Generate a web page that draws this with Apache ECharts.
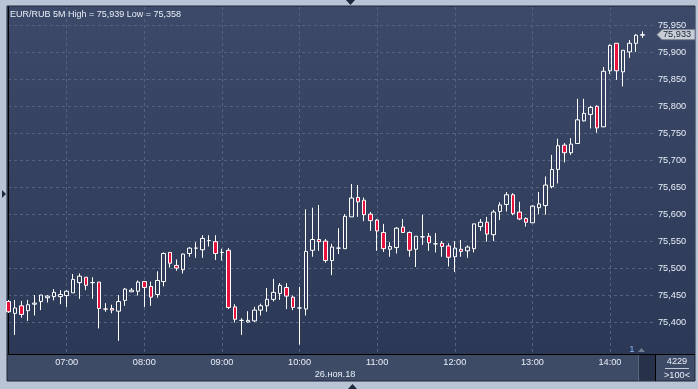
<!DOCTYPE html>
<html>
<head>
<meta charset="utf-8">
<script src="https://cdn.jsdelivr.net/npm/echarts@6/dist/echarts.min.js"></script>
<style>
html,body{margin:0;padding:0;background:#b9c5d6;}
#c{width:698px;height:389px;}
</style>
</head>
<body>
<div id="c"></div>
<script>
// 5-minute candles, index 0 = 06:15, index 98 = 14:25
var startMinutes = 6 * 60 + 15;
var stepMinutes = 5;
var openV = [75.438,75.416,75.430,75.421,75.433,75.438,75.445,75.447,75.447,75.449,
75.454,75.473,75.483,75.473,75.474,75.424,75.425,75.420,75.440,75.456,
75.457,75.475,75.466,75.451,75.475,75.529,75.505,75.497,75.527,75.537,
75.534,75.551,75.549,75.529,75.533,75.428,75.403,75.400,75.402,75.422,
75.430,75.442,75.453,75.464,75.446,75.426,75.424,75.533,75.553,75.550,
75.514,75.537,75.536,75.595,75.631,75.626,75.600,75.589,75.566,75.535,
75.538,75.576,75.566,75.535,75.558,75.559,75.545,75.546,75.541,75.521,
75.535,75.532,75.536,75.577,75.585,75.562,75.605,75.618,75.636,75.604,
75.592,75.584,75.612,75.616,75.651,75.683,75.728,75.714,75.731,75.773,
75.785,75.800,75.762,75.866,75.917,75.864,75.901,75.917,75.932];
var closeV = [75.419,75.426,75.414,75.432,75.435,75.450,75.448,75.455,75.451,75.457,
75.479,75.485,75.468,75.473,75.425,75.424,75.422,75.438,75.461,75.459,
75.474,75.464,75.446,75.477,75.527,75.509,75.500,75.526,75.537,75.537,
75.555,75.551,75.527,75.529,75.427,75.405,75.403,75.403,75.422,75.430,
75.442,75.455,75.468,75.448,75.427,75.426,75.531,75.553,75.549,75.514,
75.539,75.537,75.596,75.630,75.623,75.599,75.588,75.569,75.536,75.540,
75.574,75.566,75.533,75.559,75.558,75.547,75.545,75.540,75.520,75.537,
75.531,75.539,75.582,75.585,75.563,75.604,75.617,75.636,75.601,75.591,
75.585,75.615,75.619,75.654,75.683,75.727,75.714,75.730,75.775,75.787,
75.798,75.760,75.865,75.913,75.866,75.904,75.917,75.932,75.933];
var lowV = [75.417,75.376,75.408,75.402,75.412,75.422,75.436,75.440,75.433,75.428,
75.454,75.443,75.459,75.443,75.388,75.419,75.416,75.365,75.430,75.456,
75.449,75.428,75.430,75.445,75.466,75.501,75.495,75.490,75.521,75.519,
75.519,75.540,75.515,75.514,75.424,75.399,75.376,75.399,75.400,75.412,
75.419,75.438,75.441,75.424,75.422,75.358,75.412,75.521,75.532,75.510,
75.487,75.526,75.536,75.595,75.595,75.587,75.569,75.532,75.530,75.521,
75.527,75.566,75.521,75.502,75.543,75.532,75.529,75.521,75.503,75.493,
75.521,75.519,75.529,75.569,75.549,75.550,75.589,75.605,75.598,75.589,
75.577,75.584,75.600,75.599,75.648,75.657,75.696,75.710,75.731,75.772,
75.759,75.751,75.762,75.860,75.849,75.837,75.890,75.901,75.927];
var highV = [75.441,75.441,75.439,75.441,75.450,75.450,75.450,75.461,75.459,75.459,
75.489,75.490,75.483,75.483,75.474,75.435,75.432,75.450,75.463,75.463,
75.477,75.475,75.475,75.494,75.529,75.529,75.516,75.527,75.539,75.548,
75.561,75.561,75.561,75.536,75.537,75.433,75.407,75.420,75.428,75.434,
75.463,75.480,75.472,75.472,75.449,75.465,75.609,75.612,75.617,75.554,
75.545,75.574,75.600,75.656,75.654,75.631,75.604,75.591,75.582,75.548,
75.576,75.591,75.568,75.559,75.599,75.565,75.565,75.550,75.546,75.550,
75.552,75.542,75.582,75.591,75.595,75.608,75.622,75.641,75.639,75.623,
75.594,75.617,75.641,75.670,75.710,75.740,75.732,75.741,75.814,75.814,
75.801,75.802,75.873,75.915,75.917,75.904,75.923,75.934,75.939];
var xTickIdx = [9, 21, 33, 45, 57, 69, 81, 93];
var yTicks = [75.400, 75.450, 75.500, 75.550, 75.600, 75.650, 75.700, 75.750, 75.800, 75.850, 75.900, 75.950];
var titleText = 'EUR/RUB 5M High = 75,939 Low = 75,358';
var dateText = '26.ноя.18';
var lastPrice = 75.933;
var barCount = '4229';
var zoomText = '>100<';

function idxToTime(i) {
  var m = startMinutes + stepMinutes * Math.round(i);
  var h = Math.floor(m / 60), mm = m % 60;
  return (h < 10 ? '0' : '') + h + ':' + (mm < 10 ? '0' : '') + mm;
}
function fmtPrice(v) { return v.toFixed(3).replace('.', ','); }

var candleData = openV.map(function (o, i) { return [i, o, closeV[i], lowV[i], highV[i]]; });

var FONT = '"Liberation Sans", Arial, sans-serif';
var TXT = '#e9eff8';

function txt(s, x, y, align, size, color) {
  return { type: 'text', z: 60, silent: true, style: {
    text: s, x: x, y: y, fill: color || TXT, font: (size || 9.2) + 'px ' + FONT,
    align: align, textAlign: align, verticalAlign: 'middle', textVerticalAlign: 'middle' } };
}

var chart = echarts.init(document.getElementById('c'), null, { renderer: 'canvas' });
chart.setOption({
  animation: false,
  backgroundColor: '#b9c5d6',
  grid: { left: 8, top: 7, right: 43, bottom: 35, show: false },
  xAxis: {
    type: 'value',
    min: -0.08,
    max: 99.96,
    axisLine: { show: true, lineStyle: { color: '#000', width: 1 } },
    axisTick: { show: false, customValues: xTickIdx },
    axisLabel: {
      customValues: xTickIdx,
      formatter: function (v) { return idxToTime(v); },
      color: TXT, fontFamily: FONT, fontSize: 9.2, margin: 4
    },
    splitLine: { show: true, lineStyle: { color: '#53627e', type: [3, 3], width: 1 } }
  },
  yAxis: {
    type: 'value',
    position: 'right',
    min: 75.3406,
    max: 75.9843,
    scale: true,
    axisLine: { show: true, lineStyle: { color: '#000', width: 1 } },
    axisTick: { show: false, customValues: yTicks },
    axisLabel: {
      customValues: yTicks,
      formatter: function (v) { return fmtPrice(v); },
      color: TXT, fontFamily: FONT, fontSize: 9.2, margin: 3
    },
    splitLine: { show: true, lineStyle: { color: '#53627e', type: [3, 3], width: 1 } }
  },
  series: [{
    type: 'candlestick',
    data: candleData,
    encode: { x: 0, y: [1, 2, 3, 4] },
    barWidth: 4,
    clip: true,
    itemStyle: {
      color: 'rgba(0,0,0,0)',
      color0: '#e8123c',
      borderColor: '#ffffff',
      borderColor0: '#ffffff',
      borderColorDoji: '#ffffff',
      borderWidth: 1
    },
    z: 5
  }]
});

var yLast = chart.convertToPixel({ yAxisIndex: 0 }, lastPrice);

chart.setOption({
  graphic: [
    // panel frame + bottom time band
    { type: 'rect', z: -20, silent: true, shape: { x: 7, y: 6, width: 688, height: 375 },
      style: { fill: '#3e4b67', stroke: '#1f2638', lineWidth: 1 } },
    // plot + price band background gradient
    { type: 'rect', z: -10, silent: true, shape: { x: 8, y: 7, width: 687, height: 347 },
      style: { fill: new echarts.graphic.LinearGradient(0, 0, 0, 1, [
        { offset: 0, color: '#3c4968' }, { offset: 1, color: '#2b3856' }]) } },
    { type: 'line', z: 50, silent: true, shape: { x1: 655.5, y1: 354, x2: 655.5, y2: 381 }, style: { stroke: '#000', lineWidth: 1 } },
    { type: 'line', z: 50, silent: true, shape: { x1: 655, y1: 354.5, x2: 695, y2: 354.5 }, style: { stroke: '#000', lineWidth: 1 } },
    // scroll box
    { type: 'rect', z: 40, silent: true, shape: { x: 638, y: 355, width: 17, height: 26 }, style: { fill: '#27324a' } },
    { type: 'line', z: 41, silent: true, shape: { x1: 638.5, y1: 355, x2: 638.5, y2: 381 }, style: { stroke: '#5a667e', lineWidth: 1 } },
    { type: 'polygon', z: 41, silent: true, shape: { points: [[638, 352], [641.5, 348], [645, 352]] }, style: { fill: '#6f7b90' } },
    txt('1', 632, 349.5, 'center', 9.5, '#86b6ee'),
    txt(titleText, 10, 15, 'left', 9),
    txt(dateText, 335, 374, 'center'),
    txt(barCount, 677, 361.5, 'center'),
    { type: 'line', z: 60, silent: true, shape: { x1: 665, y1: 368.5, x2: 689, y2: 368.5 }, style: { stroke: '#c3cbd9', lineWidth: 1 } },
    txt(zoomText, 677, 375, 'center'),
    // last price tag
    { type: 'polygon', z: 70, silent: true, shape: { points: [[657, yLast], [662, yLast - 5], [695, yLast - 5], [695, yLast + 5], [662, yLast + 5]] },
      style: { fill: '#c9ced6', stroke: '#7d8597', lineWidth: 1 } },
    { type: 'text', z: 71, silent: true, style: { text: fmtPrice(lastPrice), x: 663, y: yLast, fill: '#1b2236',
      font: '9.2px ' + FONT, verticalAlign: 'middle', textVerticalAlign: 'middle' } },
    // decorative arrows on the outer frame
    { type: 'polygon', z: 60, silent: true, shape: { points: [[346, 0], [355, 0], [350.5, 5]] }, style: { fill: '#1e2940' } },
    { type: 'polygon', z: 60, silent: true, shape: { points: [[348, 389], [357, 389], [352.5, 384]] }, style: { fill: '#1e2940' } },
    { type: 'polygon', z: 60, silent: true, shape: { points: [[2, 190], [2, 198], [6, 194]] }, style: { fill: '#1e2940' } }
  ]
});
</script>
</body>
</html>
